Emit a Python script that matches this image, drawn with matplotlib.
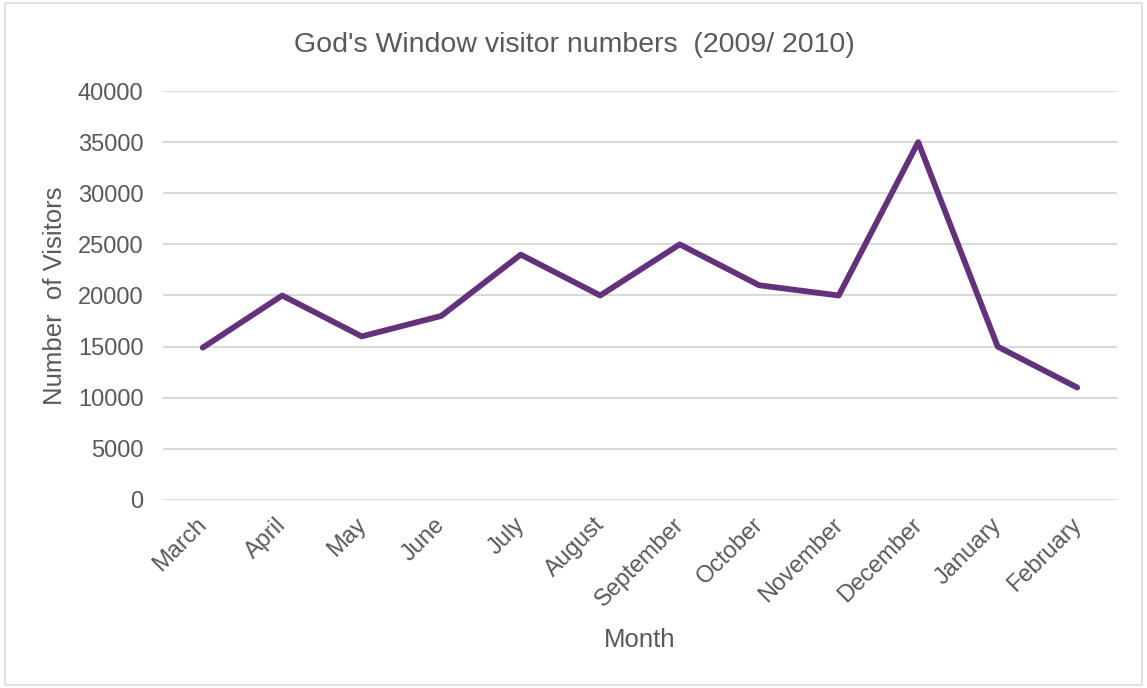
import numpy as np
import matplotlib.pyplot as plt
import matplotlib.transforms as mtransforms
from matplotlib.patches import Rectangle

plt.rcParams['font.family'] = ['Liberation Sans', 'DejaVu Sans']

# || Data
months = ["March", "April", "May", "June", "July", "August", "September",
          "October", "November", "December", "January", "February"]
visitors = [14900, 20000, 16000, 18000, 24000, 20000, 25000,
            21000, 20000, 35000, 15000, 11000]
y_ticks = [0, 5000, 10000, 15000, 20000, 25000, 30000, 35000, 40000]

text_col = "#595959"
grid_col = "#d9d9d9"
line_col = "#64327c"

fig = plt.figure(figsize=(11.47, 6.88), dpi=100)
ax = fig.add_axes([0.1421, 0.2733, 0.8317, 0.5944])

# figure border
fig.patches.append(Rectangle((0.004, 0.005), 0.992, 0.99, transform=fig.transFigure,
                             fill=False, edgecolor="#d9d9d9", linewidth=1.2))

x = np.arange(len(months))
ax.plot(x, visitors, color=line_col, linewidth=4.2,
        solid_joinstyle='round', solid_capstyle='round', zorder=3)

ax.set_xlim(-0.5, len(months) - 0.5)
ax.set_ylim(0, 40000)
ax.set_yticks(y_ticks)
ax.set_yticklabels([str(v) for v in y_ticks])
ax.set_xticks(x)
ax.set_xticklabels(months, rotation=45, ha='right', va='top', rotation_mode='anchor')

ax.grid(axis='y', color=grid_col, linewidth=1.4)
ax.set_axisbelow(True)
for s in ax.spines.values():
    s.set_visible(False)
ax.tick_params(axis='both', length=0, colors=text_col, labelsize=17)
ax.tick_params(axis='y', pad=14)
ax.tick_params(axis='x', pad=10)

# nudge the rotated month labels so they end under their tick
offset = mtransforms.ScaledTranslation(-7 / 100, 0, fig.dpi_scale_trans)
for lbl in ax.get_xticklabels():
    lbl.set_transform(lbl.get_transform() + offset)

fig.text(0.501, 0.9346, "God's Window visitor numbers  (2009/ 2010)", color=text_col,
         fontsize=20.5, ha='center', va='center')
ax.set_xlabel("Month", color=text_col, fontsize=18.5)
ax.xaxis.set_label_coords(0.5, -0.313)
ax.set_ylabel("Number  of Visitors", color=text_col, fontsize=18.5, va='center')
ax.yaxis.set_label_coords(-0.113, 0.5)

fig.savefig("out.png", dpi=100)
